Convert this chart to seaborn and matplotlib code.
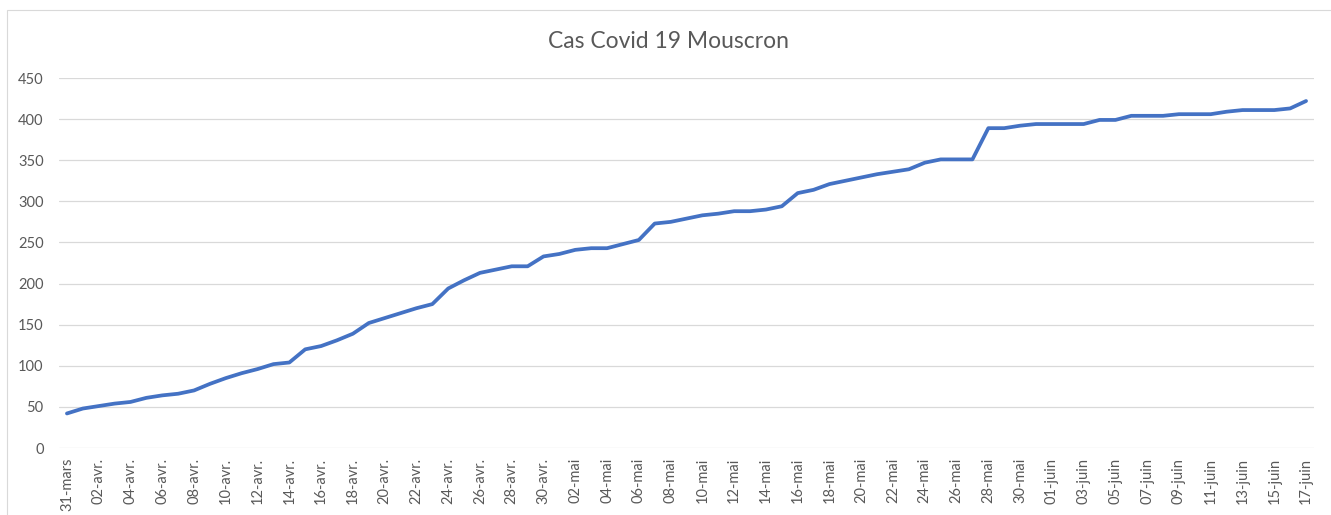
import matplotlib
matplotlib.use("Agg")
import matplotlib.pyplot as plt
from matplotlib.patches import Rectangle
import seaborn as sns
import pandas as pd
import numpy as np

# ---- data ----
start_date = "2020-03-31"
end_date = "2020-06-17"
month_abbr = {3: "mars", 4: "avr.", 5: "mai", 6: "juin"}
cases = [42, 48, 51, 54, 56, 61, 64, 66, 70, 78,
         85, 91, 96, 102, 104, 120, 124, 131, 139, 152,
         158, 164, 170, 175, 194, 204, 213, 217, 221, 221,
         233, 236, 241, 243, 243, 248, 253, 273, 275, 279,
         283, 285, 288, 288, 290, 294, 310, 314, 321, 325,
         329, 333, 336, 339, 347, 351, 351, 351, 389, 389,
         392, 394, 394, 394, 394, 399, 399, 404, 404, 404,
         406, 406, 406, 409, 411, 411, 411, 413, 422]
y_ticks = [0, 50, 100, 150, 200, 250, 300, 350, 400, 450]
title = "Cas Covid 19 Mouscron"

dates = pd.date_range(start_date, end_date, freq="D")
labels = [f"{d.day:02d}-{month_abbr[d.month]}" for d in dates]
df = pd.DataFrame({"idx": np.arange(len(cases)), "cas": cases, "date": labels})

# ---- style ----
sns.set_theme(style="white")
plt.rcParams['font.family'] = ['Lato', 'DejaVu Sans']
grey = "#595959"

W, H = 1331, 515
fig = plt.figure(figsize=(W / 100, H / 100), dpi=100)
fig.patch.set_facecolor("white")

# chart-area border
fig.add_artist(Rectangle((7 / W, -0.01), 1.05, 1 - 10 / H + 0.01,
                         transform=fig.transFigure, fill=False,
                         edgecolor="#D9D9D9", linewidth=0.8))

ax = fig.add_axes([59 / W, 1 - 448 / H, (1314 - 59) / W, (448 - 78) / H])
sns.lineplot(data=df, x="idx", y="cas", ax=ax, color="#4472C4",
             linewidth=2.7, solid_capstyle="round", solid_joinstyle="round")

ax.set_xlim(-0.5, len(cases) - 0.5)
ax.set_ylim(y_ticks[0], y_ticks[-1])
ax.set_yticks(y_ticks)
ax.set_yticklabels([str(v) for v in y_ticks])
ax.set_xticks(df["idx"][::2])
ax.set_xticklabels(df["date"][::2], rotation=90)
ax.grid(axis="y", color="#D9D9D9", linewidth=0.9)
ax.grid(axis="x", visible=False)
for s in ax.spines.values():
    s.set_visible(False)
ax.tick_params(axis="both", length=0, colors=grey, labelsize=10.5)
ax.tick_params(axis="y", pad=11)
ax.tick_params(axis="x", pad=7)
ax.set_xlabel("")
ax.set_ylabel("")

fig.text(669 / W, 1 - 42 / H, title, ha="center", va="center",
         fontsize=16.5, color=grey)

fig.savefig("out.png", dpi=100, facecolor="white")
